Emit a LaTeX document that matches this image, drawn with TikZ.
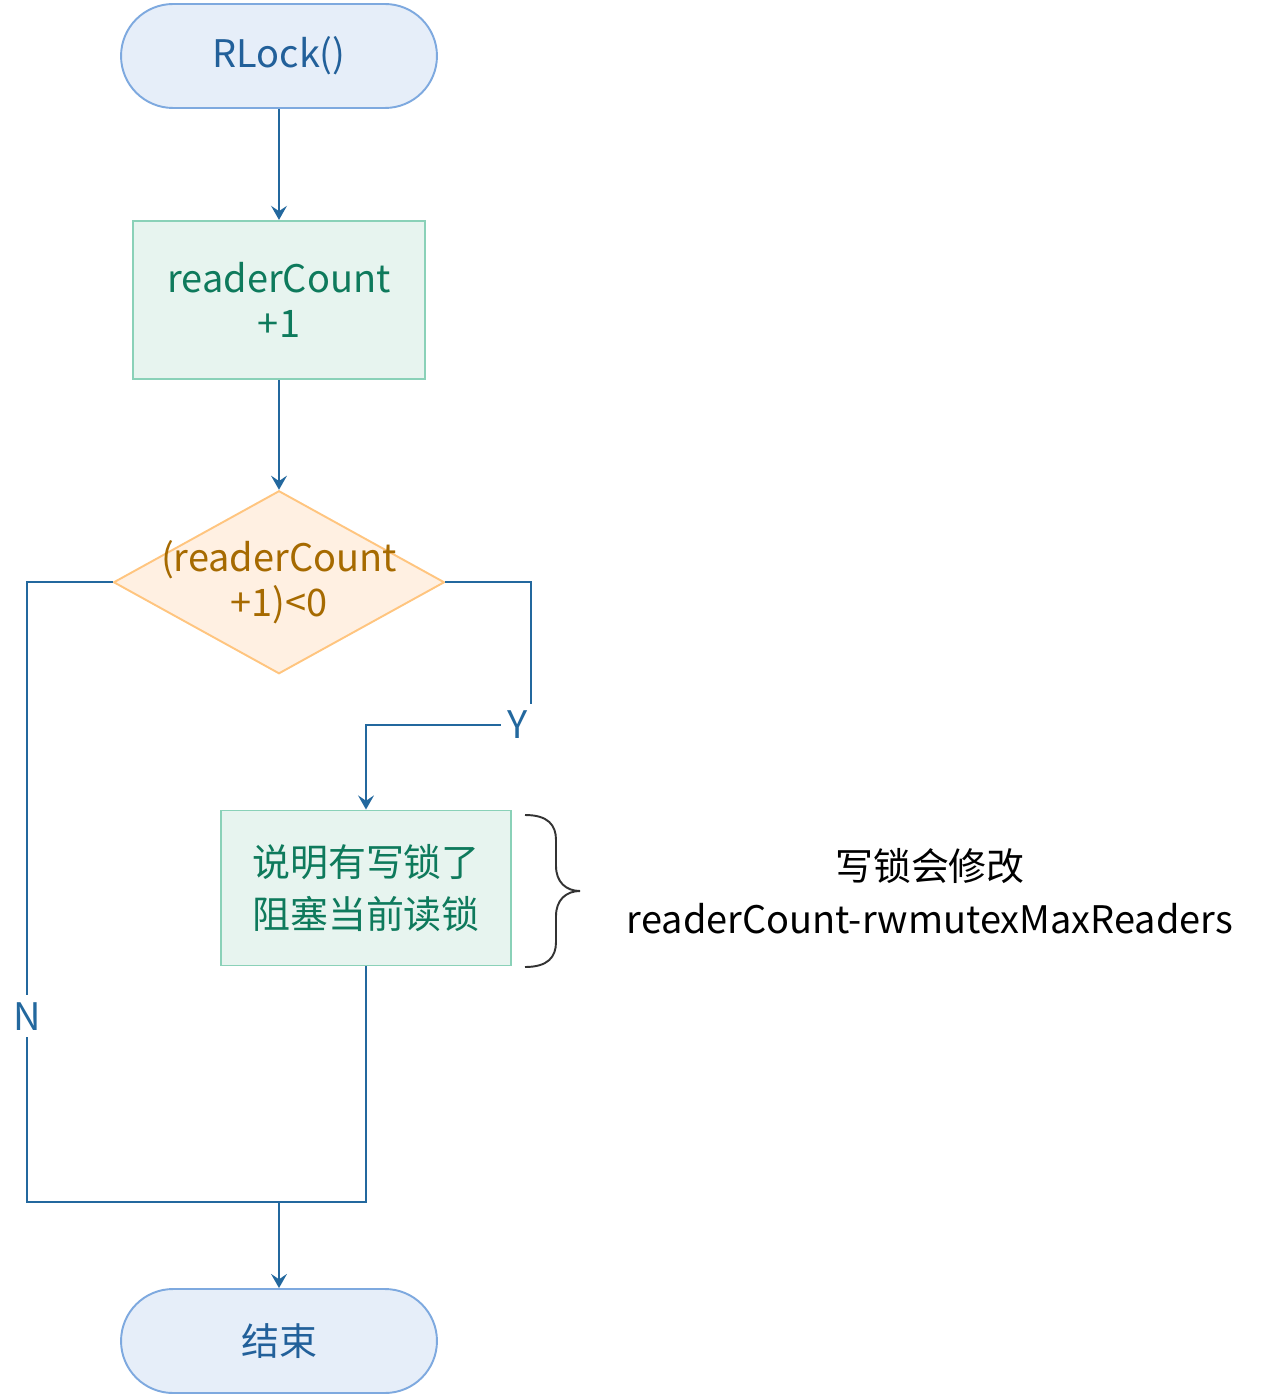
\documentclass[tikz,border=0pt]{standalone}
\usepackage{fontspec}
\setmainfont{Noto Sans CJK SC}
\usetikzlibrary{positioning,arrows.meta,shapes.geometric}

\definecolor{lineblue}{HTML}{23689E}
\definecolor{termfill}{HTML}{E6EEF9}
\definecolor{termdraw}{HTML}{7EA9DF}
\definecolor{termtext}{HTML}{22609A}
\definecolor{procfill}{HTML}{E7F4EF}
\definecolor{procdraw}{HTML}{8AD1B8}
\definecolor{proctext}{HTML}{0E7A5C}
\definecolor{condfill}{HTML}{FFF0E2}
\definecolor{conddraw}{HTML}{FFC57F}
\definecolor{condtext}{HTML}{A66A00}

\begin{document}
\begin{tikzpicture}[x=0.02cm,y=-0.02cm,
				every node/.style={
						align=center,
						inner sep=0pt,
						font=\fontsize{21.6}{26}\selectfont},
				term/.style={draw=termdraw,fill=termfill,text=termtext,line width=1.1pt,
						rounded corners=1.04cm,minimum width=6.32cm,minimum height=2.08cm},
				proc/.style={draw=procdraw,fill=procfill,text=proctext,line width=1.1pt},
				decision/.style={diamond,draw=conddraw,fill=condfill,line width=1.1pt,
						minimum width=6.62cm,minimum height=3.66cm},
				flow/.style={draw=lineblue,line width=1.2pt,-{Stealth[length=8pt,width=9pt,inset=3pt]}},
				line/.style={draw=lineblue,line width=1.2pt},
				lbl/.style={fill=white,text=lineblue,inner sep=4pt}]

			\useasboundingbox (0,0) rectangle (1264,1398);

			\node[term] (start) at (279,56) {RLock()};
			\node[proc,minimum width=5.84cm,minimum height=3.16cm] (count) [below=2.22cm of start] {readerCount\\+1};
			\node[decision] (cond) [below=2.2cm of count] {};
			\node[text=condtext] (condtxt) at (cond) {(readerCount\\+1)<0};
			\node[proc,minimum width=5.8cm,minimum height=3.1cm,font=\fontsize{21.6}{30}\selectfont] (block) at (366,888) {说明有写锁了\\阻塞当前读锁};
			\node[term] (stop) at (279,1341) {结束};
			\node[font=\fontsize{21.6}{30}\selectfont] (note) at (930,891) {写锁会修改\\readerCount-rwmutexMaxReaders};

			\coordinate (yturn) at (531,725);
			\coordinate (nturn) at (27,1202);
			\coordinate (join) at (279,1202);

			\draw[flow] (start)--(count);
			\draw[flow] (count)--(cond);
			\draw[line] (cond.east) -| (yturn);
			\draw[flow] (yturn) -| node[lbl,pos=0.04] {Y} (block.north);
			\draw[line] (cond.west) -| node[lbl,pos=0.85] {N} (nturn) -- (join);
			\draw[line] (block.south) |- (join);
			\draw[flow] (join)--(stop);

			\draw[black!80,line width=1.1pt] (525,815) .. controls (548,815) and (556,825) .. (556,840) -- (556,866)
				.. controls (556,882) and (566,891) .. (580,891)
				.. controls (566,891) and (556,900) .. (556,916) -- (556,942)
				.. controls (556,957) and (548,967) .. (525,967);

		\end{tikzpicture}
\end{document}
